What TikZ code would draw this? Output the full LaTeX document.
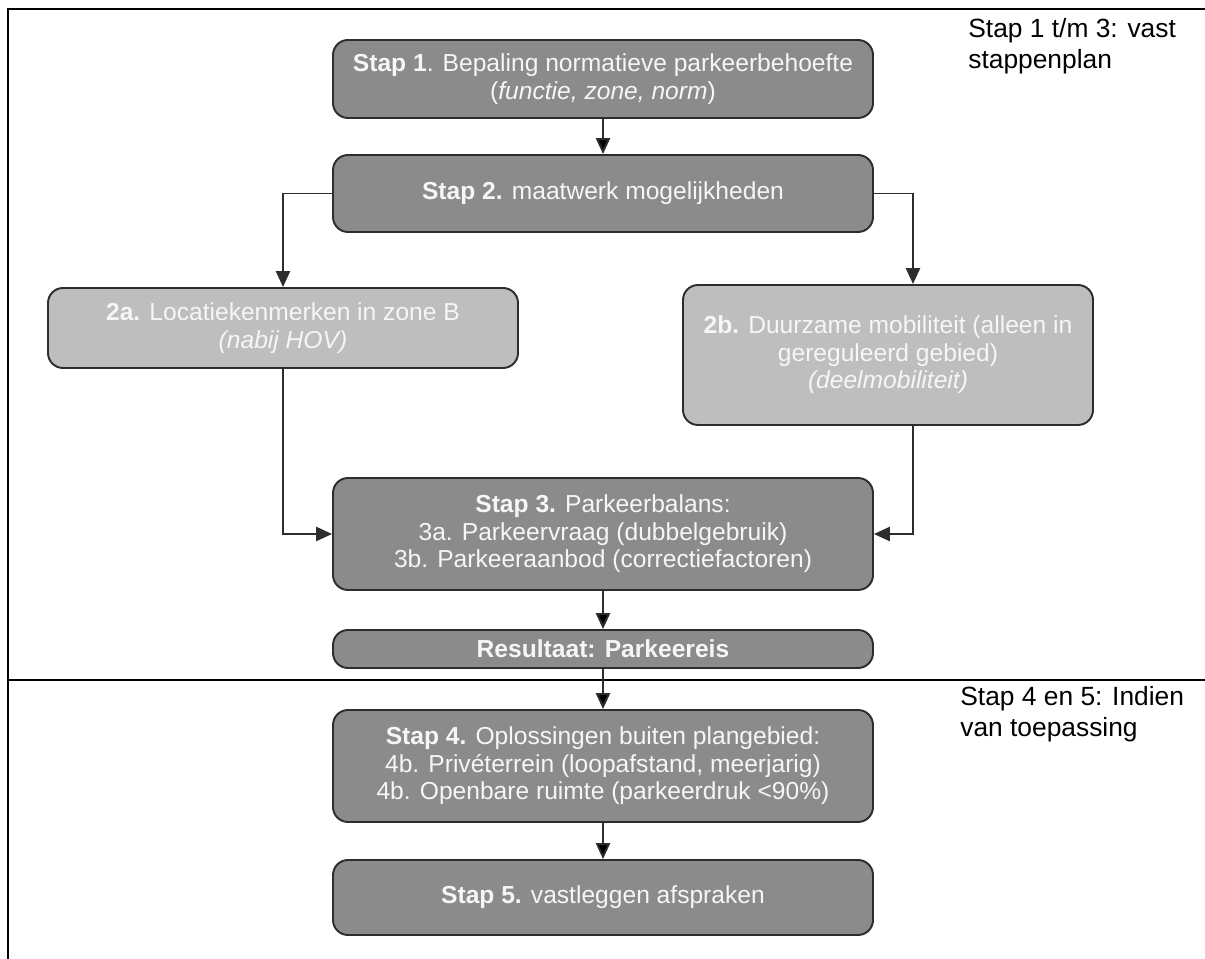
\documentclass[tikz,border=0pt]{standalone}
\usepackage{fontspec}
\setmainfont{Liberation Sans}
\usepackage{tikz}
\usetikzlibrary{arrows.meta}

\definecolor{stapgray}{RGB}{139,139,139}
\definecolor{optgray}{RGB}{190,190,190}
\definecolor{randgray}{RGB}{45,45,45}
\definecolor{tekstwit}{RGB}{246,246,246}

\begin{document}
\begin{tikzpicture}[
  stapbox/.style={shape=rectangle, rounded corners=0.3cm, draw=randgray, line width=1.1pt,
    fill=stapgray, text=tekstwit, align=center, inner sep=0pt, minimum width=10.8cm,
    font=\fontsize{14}{15.7}\selectfont},
  optbox/.style={stapbox, fill=optgray},
  pijl/.style={draw=randgray, line width=1.1pt, -{Triangle[length=9pt,width=8pt]}},
  kader/.style={draw=black, line width=1.6pt},
  fase/.style={anchor=north west, align=left, inner sep=0pt, font=\fontsize{15}{17.5}\selectfont}
]
\useasboundingbox (0,0) rectangle (24.1,-19.18);

\draw[kader] (0.16,-19.18) -- (0.16,-0.18) -- (24.1,-0.18);
\draw[kader] (0.16,-13.6) -- (24.1,-13.6);

\node[stapbox, minimum height=1.56cm](s1) at (12.06,-1.58) {\textbf{Stap 1}. Bepaling normatieve parkeerbehoefte\\(\textit{functie, zone, norm})};
\node[stapbox, minimum height=1.54cm](s2) at (12.06,-3.87) {\textbf{Stap 2.} maatwerk mogelijkheden};
\node[optbox, minimum width=9.4cm, minimum height=1.6cm](s2a) at (5.66,-6.56) {\textbf{2a.} Locatiekenmerken in zone B\\\textit{(nabij HOV)}};
\node[optbox, minimum width=8.2cm, minimum height=2.8cm](s2b) at (17.76,-7.1) {\textbf{2b.} Duurzame mobiliteit (alleen in\\gereguleerd gebied)\\\textit{(deelmobiliteit)}};
\node[stapbox, minimum height=2.24cm](s3) at (12.06,-10.68) {\textbf{Stap 3.} Parkeerbalans:\\3a. Parkeervraag (dubbelgebruik)\\3b. Parkeeraanbod (correctiefactoren)};
\node[stapbox, minimum height=0.76cm](res) at (12.06,-12.98) {\textbf{Resultaat: Parkeereis}};
\node[stapbox, minimum height=2.24cm](s4) at (12.06,-15.32) {\textbf{Stap 4.} Oplossingen buiten plangebied:\\4b. Privéterrein (loopafstand, meerjarig)\\4b. Openbare ruimte (parkeerdruk <90\%)};
\node[stapbox, minimum height=1.5cm](s5) at (12.06,-17.95) {\textbf{Stap 5.} vastleggen afspraken};

\node[fase](f13) at (19.36,-0.36) {Stap 1 t/m 3: vast\\stappenplan};
\node[fase](f45) at (19.2,-13.72) {Stap 4 en 5: Indien\\van toepassing};

\coordinate (k2b) at (18.26,-3.87);

\path[pijl] (s1) edge (s2);
\draw[pijl] (s2.west) -| (s2a.north);
\draw[pijl] (s2.east) -- (k2b) -- (k2b |- s2b.north);
\draw[pijl] (s2a.south) |- (s3.west);
\draw[pijl] (s2b.south -| k2b) |- (s3.east);
\path[pijl] (s3) edge (res);
\path[pijl] (res) edge (s4);
\path[pijl] (s4) edge (s5);
\end{tikzpicture}
\end{document}
